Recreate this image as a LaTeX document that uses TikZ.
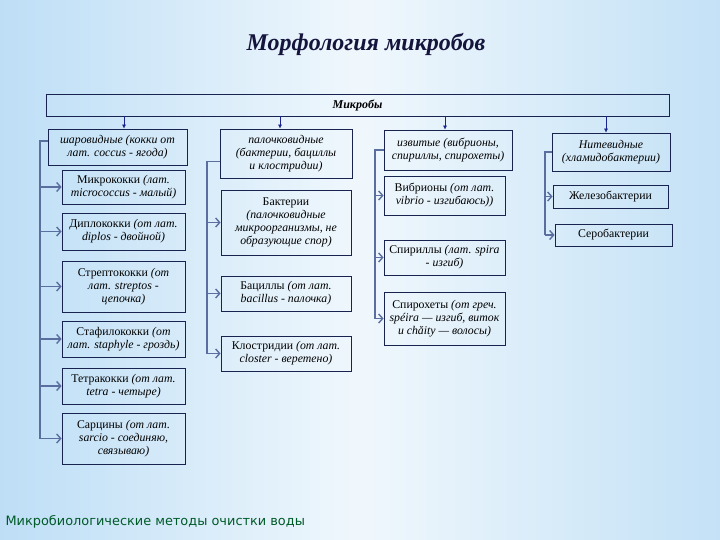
\documentclass[tikz,border=0pt]{standalone}
\usepackage{fontspec}
\setmainfont{Liberation Serif}
\newfontfamily\footfont{DejaVu Sans}
\usetikzlibrary{arrows.meta, positioning}

\definecolor{boxline}{RGB}{25,35,80}
\definecolor{linkcol}{RGB}{90,110,160}
\definecolor{downcol}{RGB}{25,35,140}
\definecolor{titlecol}{RGB}{20,20,60}
\definecolor{footcol}{RGB}{0,90,40}
\pgfdeclarehorizontalshading{bgshade}{100bp}{rgb(0bp)=(0.58,0.78,0.94); rgb(30bp)=(0.78,0.89,0.97);
	rgb(50bp)=(0.94,0.97,0.99); rgb(70bp)=(0.80,0.90,0.97); rgb(100bp)=(0.62,0.80,0.95)}

\begin{document}
\begin{tikzpicture}[x=1pt, y=-1pt,
			head/.style={rectangle, draw=boxline, thick, minimum width=623pt,
					minimum height=22pt, inner sep=0pt, font=\fontsize{12}{13}\selectfont\bfseries\itshape},
			group/.style={rectangle, draw=boxline, thick, align=center, inner sep=1pt,
					font=\fontsize{11.8}{13}\selectfont\itshape},
			item/.style={rectangle, draw=boxline, thick, align=center, inner sep=1pt,
					font=\fontsize{11.8}{13}\selectfont},
			down/.style={downcol, semithick, -{Latex[length=4pt, width=4pt]}},
			spine/.style={linkcol, line width=1.4pt},
			link/.style={linkcol, line width=1.4pt, -{Straight Barb[length=4pt, width=9pt]}},
		]

		% --- Fondo e titolo ---
		\shade[shading=bgshade] (0,0) rectangle (720,540);
		\node (title) [font=\fontsize{24}{27}\selectfont\bfseries\itshape, text=titlecol] at (366,44) {Морфология микробов};
		\node (foot) [font=\footfont\fontsize{12.9}{14}\selectfont, text=footcol, anchor=west] at (2,522) {Микробиологические методы очистки воды};

		% --- Nodi ---
		\node (mic) [head] at (357.5,105) {Микробы};

		\node (g1) [group, minimum width=139pt, minimum height=36pt] at (117.5,147) {шаровидные (кокки от\\лат. coccus - ягода)};
		\node (g2) [group, minimum width=132pt, minimum height=49pt] at (286,153.5) {палочковидные\\(бактерии, бациллы\\и клостридии)};
		\node (g3) [group, minimum width=128pt, minimum height=40pt] at (448,150) {извитые (вибрионы,\\спириллы, спирохеты)};
		\node (g4) [group, minimum width=118pt, minimum height=38pt] at (611,152) {Нитевидные\\(хламидобактерии)};

		% colonna 1
		\node (mcoc) [item, minimum width=123pt, minimum height=34pt] at (123.5,187) {Микрококки \textit{(лат.}\\\textit{micrococcus - малый)}};
		\node (dcoc) [item, minimum width=123pt, minimum height=37pt] at (123.5,231.5) {Диплококки \textit{(от лат.}\\\textit{diplos - двойной)}};
		\node (strc) [item, minimum width=123pt, minimum height=51pt] at (123.5,286.5) {Стрептококки \textit{(от}\\\textit{лат. streptos -}\\\textit{цепочка)}};
		\node (stac) [item, minimum width=123pt, minimum height=36pt] at (123.5,339) {Стафилококки \textit{(от}\\\textit{лат. staphyle - гроздь)}};
		\node (tetc) [item, minimum width=123pt, minimum height=36pt] at (123.5,386) {Тетракокки \textit{(от лат.}\\\textit{tetra - четыре)}};
		\node (sarc) [item, minimum width=123pt, minimum height=51pt] at (123.5,438.5) {Сарцины \textit{(от лат.}\\\textit{sarcio - соединяю,}\\\textit{связываю)}};

		% colonna 2
		\node (bact) [item, minimum width=130pt, minimum height=65pt] at (286,222.5) {Бактерии\\\textit{(палочковидные}\\\textit{микроорганизмы, не}\\\textit{образующие спор)}};
		\node (bacl) [item, minimum width=130pt, minimum height=35pt] at (286,293.5) {Бациллы \textit{(от лат.}\\\textit{bacillus - палочка)}};
		\node (clos) [item, minimum width=130pt, minimum height=35pt] at (286,353.5) {Клостридии \textit{(от лат.}\\\textit{closter - веретено)}};

		% colonna 3
		\node (vibr) [item, minimum width=121pt, minimum height=39pt] at (444.5,195.5) {Вибрионы \textit{(от лат.}\\\textit{vibrio - изгибаюсь))}};
		\node (spir) [item, minimum width=121pt, minimum height=35pt] at (444.5,257.5) {Спириллы \textit{(лат. spira}\\\textit{- изгиб)}};
		\node (sphe) [item, minimum width=121pt, minimum height=53pt] at (444.5,318.5) {Спирохеты \textit{(от греч.}\\\textit{spéira — изгиб, виток}\\\textit{и chăity — волосы)}};

		% colonna 4
		\node (iron) [item, minimum width=115pt, minimum height=23pt] at (610.5,196.5) {Железобактерии};
		\node (sulf) [item, minimum width=117pt, minimum height=22pt] at (613.5,235) {Серобактерии};

		% --- Dai microbi ai quattro gruppi ---
		\draw [down] ([xshift=6.5pt]g1.north |- mic.south) -- ([xshift=6.5pt]g1.north);
		\draw [down] ([xshift=-6pt]g2.north |- mic.south) -- ([xshift=-6pt]g2.north);
		\draw [down] ([xshift=-3pt]g3.north |- mic.south) -- ([xshift=-3pt]g3.north);
		\draw [down] ([xshift=-5pt]g4.north |- mic.south) -- ([xshift=-5pt]g4.north);

		% --- Linee verticali e frecce verso le specie ---
		\coordinate (s1) at (40,438.5);
		\draw [spine] ([yshift=6pt]g1.west) -| (s1);
		\foreach \n in {mcoc, dcoc, strc, stac, tetc, sarc}
			\draw [link] (s1 |- \n) -- (\n);

		\coordinate (s2) at (207,353.5);
		\draw [spine] ([yshift=-8pt]g2.west) -| (s2);
		\foreach \n in {bact, bacl, clos}
			\draw [link] (s2 |- \n) -- (\n);

		\coordinate (s3) at (375,318.5);
		\draw [spine] (g3.west) -| (s3);
		\foreach \n in {vibr, spir, sphe}
			\draw [link] (s3 |- \n) -- (\n);

		\coordinate (s4) at (545,235);
		\draw [spine] (g4.west) -| (s4);
		\foreach \n in {iron, sulf}
			\draw [link] (s4 |- \n) -- (\n);

	\end{tikzpicture}
\end{document}
